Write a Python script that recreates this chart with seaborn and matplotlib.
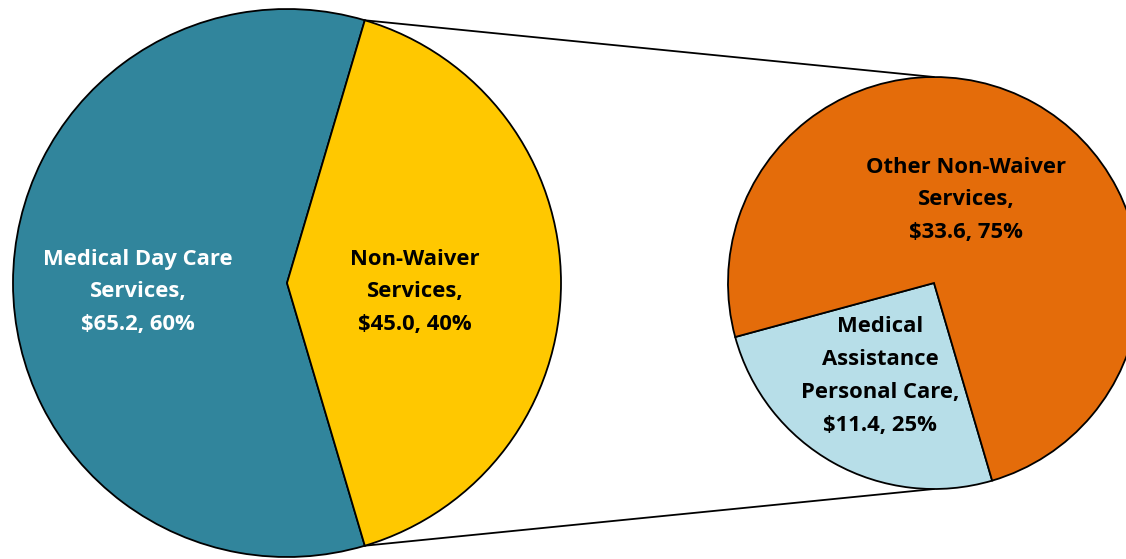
import matplotlib
matplotlib.use("Agg")
import matplotlib.pyplot as plt
import seaborn as sns
import numpy as np

sns.set_theme(style="white")
plt.rcParams['font.family'] = ['Open Sans', 'DejaVu Sans']

# Data
main_labels = ["Medical Day Care\nServices,\n$65.2, 60%", "Non-Waiver\nServices,\n$45.0, 40%"]
main_values = [65.2, 45.0]
main_colors = ["#31859C", "#FFC800"]

sub_labels = ["Medical\nAssistance\nPersonal Care,\n$11.4, 25%", "Other Non-Waiver\nServices,\n$33.6, 75%"]
sub_values = [11.4, 33.6]
sub_colors = ["#B7DEE8", "#E46C0A"]

W, H = 1126, 559
fig = plt.figure(figsize=(W / 100, H / 100), dpi=100)
ax = fig.add_axes([0, 0, 1, 1])

left_c = (287, H - 283)
left_r = 274
right_c = (934, H - 283)
right_r = 206

wp = dict(edgecolor="black", linewidth=1.3)
start_main = 180 * main_values[1] / sum(main_values)
ax.pie(main_values, colors=main_colors, startangle=start_main,
       center=left_c, radius=left_r, wedgeprops=wp, frame=True)
ax.pie(sub_values, colors=sub_colors, startangle=195.2,
       center=right_c, radius=right_r, wedgeprops=wp, frame=True)

# Connector lines from split points of main pie to top/bottom of sub pie
ang = np.deg2rad(start_main)
px = left_c[0] + left_r * np.cos(ang)
py_top = left_c[1] + left_r * np.sin(ang)
py_bot = left_c[1] - left_r * np.sin(ang)
ax.plot([px, right_c[0]], [py_top, right_c[1] + right_r], color="black", lw=1.3, zorder=0)
ax.plot([px, right_c[0]], [py_bot, right_c[1] - right_r], color="black", lw=1.3, zorder=0)

fs = 15.8
ls = 1.73
ax.text(138, H - 292, main_labels[0], ha="center", va="center", color="white",
        fontsize=fs, fontweight="bold", linespacing=ls)
ax.text(415, H - 292, main_labels[1], ha="center", va="center", color="black",
        fontsize=fs, fontweight="bold", linespacing=ls)
ax.text(880, H - 376, sub_labels[0], ha="center", va="center", color="black",
        fontsize=fs, fontweight="bold", linespacing=ls)
ax.text(966, H - 200, sub_labels[1], ha="center", va="center", color="black",
        fontsize=fs, fontweight="bold", linespacing=ls)

ax.set_xlim(0, W)
ax.set_ylim(0, H)
ax.set_aspect("equal")
ax.axis("off")
fig.savefig("out.png", dpi=100, facecolor="white")
